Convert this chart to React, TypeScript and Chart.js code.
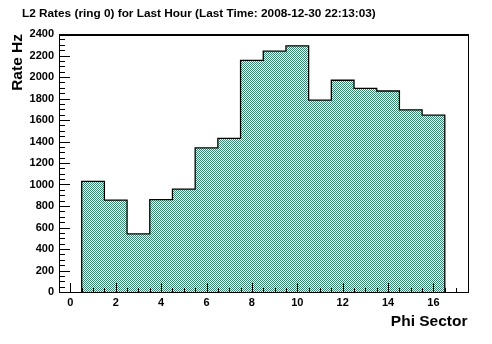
import React, { useEffect, useRef } from "react";
import { Chart, registerables } from "chart.js";

Chart.register(...registerables);

const TITLE = "L2 Rates (ring 0) for Last Hour (Last Time: 2008-12-30 22:13:03)";
const X_TITLE = "Phi Sector";
const Y_TITLE = "Rate Hz";

// Bin centres 1..16 (Phi Sector) and rates (Hz)
const phiSectors = [1, 2, 3, 4, 5, 6, 7, 8, 9, 10, 11, 12, 13, 14, 15, 16];
const rates = [1030, 855, 540, 860, 957, 1340, 1430, 2155, 2240, 2290, 1785, 1970, 1895, 1870, 1695, 1645];

const xTickValues = [0, 2, 4, 6, 8, 10, 12, 14, 16];
const yTickValues = [0, 200, 400, 600, 800, 1000, 1200, 1400, 1600, 1800, 2000, 2200, 2400];
const X_MIN = -0.5;
const X_MAX = 17.5;
const Y_MIN = 0;
const Y_MAX = 2400;

const FONT = "'Liberation Sans', Arial, Helvetica, sans-serif";

function makePattern(): CanvasPattern | string {
  const c = document.createElement("canvas");
  c.width = 2;
  c.height = 2;
  const g = c.getContext("2d");
  if (!g) return "#9cc9b6";
  g.fillStyle = "#ffffff";
  g.fillRect(0, 0, 2, 2);
  g.fillStyle = "#37896d";
  g.fillRect(0, 0, 1, 1);
  g.fillRect(1, 1, 1, 1);
  const p = g.createPattern(c, "repeat");
  return p || "#9cc9b6";
}

const framePlugin = {
  id: "rootFrame",
  afterDatasetsDraw(chart: any) {
    const { ctx, chartArea, scales } = chart;
    const { left, right, top, bottom } = chartArea;
    const xs = scales.x;
    const ys = scales.y;
    ctx.save();
    ctx.fillStyle = "#000";
    const L = Math.round(left);
    const R = Math.round(right);
    const T = Math.round(top);
    const B = Math.round(bottom);
    // frame
    ctx.fillRect(L, T, R - L + 1, 2); // top (thick)
    ctx.fillRect(R, T, 1, B - T + 1); // right
    ctx.fillRect(L, T, 1, B - T + 1); // left axis
    ctx.fillRect(L, B, R - L + 1, 1); // bottom axis
    // y ticks (inside, to the right of axis)
    for (let v = Y_MIN; v <= Y_MAX; v += 50) {
      const py = Math.round(ys.getPixelForValue(v));
      const major = v % 200 === 0;
      ctx.fillRect(L, py, major ? 11 : 6, 1);
    }
    // x ticks (inside, upward from axis)
    for (let v = 0; v <= X_MAX; v += 0.5) {
      const px = Math.round(xs.getPixelForValue(v));
      const major = Math.abs(v % 2) < 1e-9;
      const len = major ? 9 : 4;
      ctx.fillRect(px, B - len, 1, len);
    }
    ctx.restore();
  },
  afterDraw(chart: any) {
    const { ctx } = chart;
    ctx.save();
    ctx.fillStyle = "#000";
    ctx.font = `bold 11.8px ${FONT}`;
    ctx.textAlign = "left";
    ctx.textBaseline = "alphabetic";
    ctx.fillText(TITLE, 22, 17);
    ctx.restore();
  },
};

export default function App() {
  const ref = useRef<HTMLCanvasElement | null>(null);

  useEffect(() => {
    const canvas = ref.current;
    if (!canvas) return;
    const points = [
      { x: phiSectors[0] - 0.5, y: 0 },
      ...phiSectors.map((s, i) => ({ x: s - 0.5, y: rates[i] })),
      { x: phiSectors[phiSectors.length - 1] + 0.5, y: rates[rates.length - 1] },
      { x: phiSectors[phiSectors.length - 1] + 0.5, y: 0 },
    ];
    const chart = new Chart(canvas, {
      type: "line",
      data: {
        datasets: [
          {
            data: points,
            stepped: "before",
            borderColor: "#000",
            borderWidth: 1.3,
            backgroundColor: makePattern() as any,
            fill: "origin",
            pointRadius: 0,
            tension: 0,
          },
        ],
      },
      plugins: [framePlugin],
      options: {
        animation: false,
        responsive: false,
        devicePixelRatio: 1,
        layout: { padding: { left: 8, right: 24.5, top: 34, bottom: 0 } },
        plugins: {
          legend: { display: false },
          title: { display: false },
          tooltip: { enabled: false },
        },
        scales: {
          x: {
            type: "linear",
            min: X_MIN,
            max: X_MAX,
            afterBuildTicks: (s: any) => {
              s.ticks = xTickValues.map((v) => ({ value: v }));
            },
            afterFit: (s: any) => {
              s.height = 52;
            },
            grid: { display: false, drawTicks: false },
            border: { display: false },
            ticks: {
              color: "#000",
              font: { family: FONT, size: 11, weight: "bold" },
              padding: 4,
              maxRotation: 0,
              autoSkip: false,
              callback: (v: any) => String(v),
            },
            title: {
              display: true,
              text: X_TITLE,
              align: "end",
              color: "#000",
              font: { family: FONT, size: 15.5, weight: "bold" },
              padding: { top: 0, bottom: 13 },
            },
          },
          y: {
            type: "linear",
            min: Y_MIN,
            max: Y_MAX,
            afterBuildTicks: (s: any) => {
              s.ticks = yTickValues.map((v) => ({ value: v }));
            },
            afterFit: (s: any) => {
              s.width = 51;
            },
            grid: { display: false, drawTicks: false },
            border: { display: false },
            ticks: {
              color: "#000",
              font: { family: FONT, size: 11, weight: "bold" },
              padding: 5,
              autoSkip: false,
              callback: (v: any) => String(v),
            },
            title: {
              display: true,
              text: Y_TITLE,
              align: "end",
              color: "#000",
              font: { family: FONT, size: 15.5, weight: "bold" },
              padding: { top: 0, bottom: 0 },
            },
          },
        },
      },
    });
    return () => chart.destroy();
  }, []);

  return (
    <div style={{ position: "fixed", left: 0, top: 0, width: 492, height: 344, background: "#fff" }}>
      <canvas ref={ref} width={492} height={344} style={{ display: "block", width: 492, height: 344 }} />
    </div>
  );
}
